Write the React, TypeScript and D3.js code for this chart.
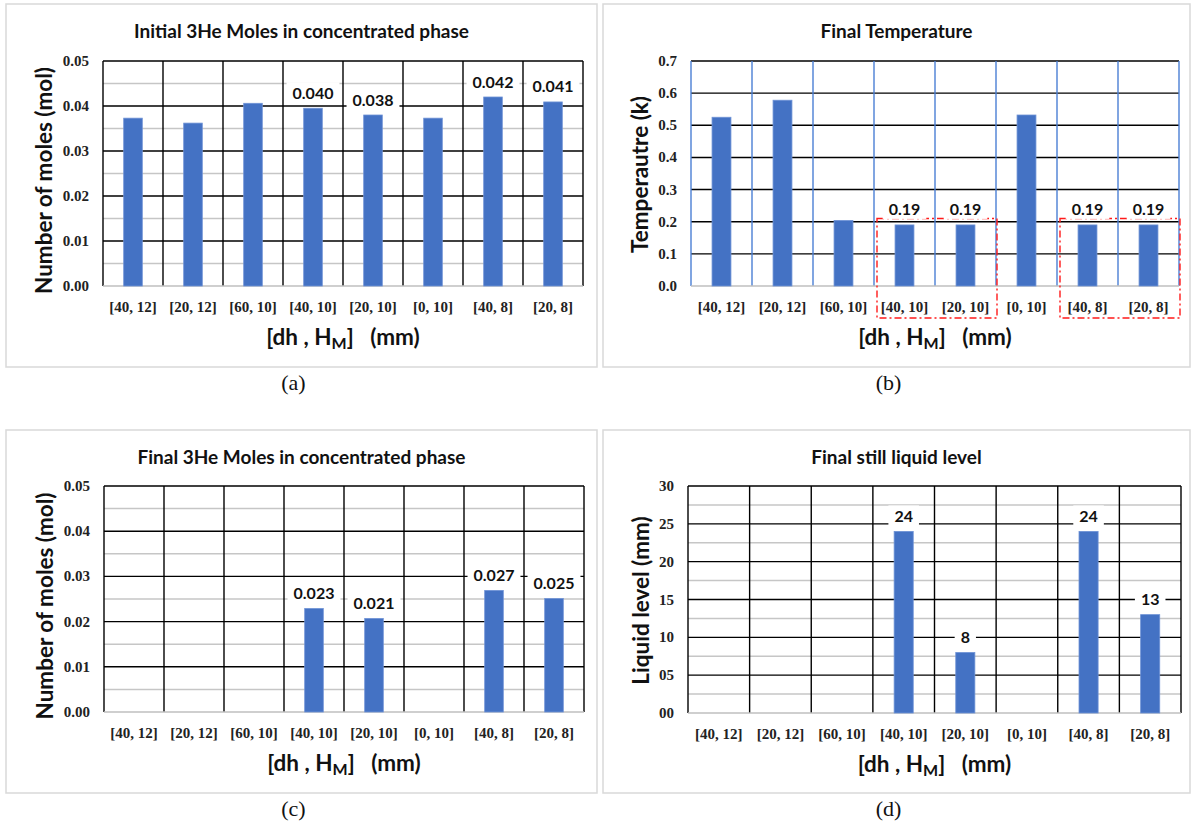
import React, { useEffect, useRef } from "react";
import * as d3 from "d3";

// ---------- data ----------
const categories = ["[40, 12]", "[20, 12]", "[60, 10]", "[40, 10]", "[20, 10]", "[0, 10]", "[40, 8]", "[20, 8]"];
const initialMoles = [0.0373, 0.0362, 0.0406, 0.0395, 0.038, 0.0373, 0.042, 0.0409];
const finalTemperature = [0.525, 0.578, 0.204, 0.19, 0.19, 0.532, 0.19, 0.19];
const finalMoles = [0, 0, 0, 0.0229, 0.0207, 0, 0.0269, 0.0251];
const finalLevel = [0, 0, 0, 24, 8, 0, 24, 13];
const labelledIdx = [3, 4, 6, 7];
const highlightGroups = [[3, 4], [6, 7]];
const molesTicks = [0, 0.01, 0.02, 0.03, 0.04, 0.05];
const tempTicks = [0, 0.1, 0.2, 0.3, 0.4, 0.5, 0.6, 0.7];
const levelTicks = [0, 5, 10, 15, 20, 25, 30];
const panelTitles = [
  "Initial 3He Moles in concentrated phase",
  "Final Temperature",
  "Final 3He Moles in concentrated phase",
  "Final still liquid level",
];
const yTitles = ["Number of moles (mol)", "Temperautre (k)", "Number of moles (mol)", "Liquid level (mm)"];
const panelTags = ["(a)", "(b)", "(c)", "(d)"];

const SANS = "Lato, 'Open Sans', sans-serif";
const SERIF = "'Liberation Serif', 'Times New Roman', serif";
const BAR = "#4472c4";

type Panel = {
  values: number[];
  ticks: number[];
  minor: boolean;
  tickFmt: string;
  labelFmt: string;
  title: string;
  yTitle: string;
  tag: string;
  box: [number, number, number, number];
  plot: [number, number, number, number];
  vColor: string;
  yTitleOff: number;
  yTitleDy: number;
  highlight: number[][] | null;
};

const panels: Panel[] = [
  {
    values: initialMoles, ticks: molesTicks, minor: true, tickFmt: ".2f", labelFmt: ".3f",
    title: panelTitles[0], yTitle: yTitles[0], tag: panelTags[0],
    box: [6, 4, 597, 367], plot: [103, 61, 583, 286], vColor: "#000", yTitleOff: 60, yTitleDy: 7, highlight: null,
  },
  {
    values: finalTemperature, ticks: tempTicks, minor: false, tickFmt: ".1f", labelFmt: ".2f",
    title: panelTitles[1], yTitle: yTitles[1], tag: panelTags[1],
    box: [603, 4, 1190, 367], plot: [691, 61, 1179, 286], vColor: "#4a7fd4", yTitleOff: 52, yTitleDy: 1, highlight: highlightGroups,
  },
  {
    values: finalMoles, ticks: molesTicks, minor: true, tickFmt: ".2f", labelFmt: ".3f",
    title: panelTitles[2], yTitle: yTitles[2], tag: panelTags[2],
    box: [6, 430, 597, 793], plot: [104, 486, 584, 712], vColor: "#000", yTitleOff: 60, yTitleDy: 7, highlight: null,
  },
  {
    values: finalLevel, ticks: levelTicks, minor: true, tickFmt: "02d", labelFmt: "d",
    title: panelTitles[3], yTitle: yTitles[3], tag: panelTags[3],
    box: [603, 430, 1190, 793], plot: [688, 486, 1181, 713], vColor: "#000", yTitleOff: 48, yTitleDy: 1, highlight: null,
  },
];

function drawPanel(svg: d3.Selection<SVGSVGElement, unknown, null, undefined>, p: Panel) {
  const [bx0, by0, bx1, by1] = p.box;
  const [px0, py0, px1, py1] = p.plot;
  const g = svg.append("g");
  const maxV = p.ticks[p.ticks.length - 1];
  const x = d3.scaleBand<string>().domain(categories).range([px0, px1]).padding(0);
  const y = d3.scaleLinear().domain([0, maxV]).range([py1, py0]);
  const bw = x.bandwidth();
  const barW = bw * 0.31;

  g.append("rect")
    .attr("x", bx0).attr("y", by0).attr("width", bx1 - bx0).attr("height", by1 - by0)
    .attr("fill", "#fff").attr("stroke", "#d9d9d9").attr("stroke-width", 1.5);

  // title
  g.append("text")
    .attr("x", (bx0 + bx1) / 2).attr("y", by0 + 26)
    .attr("text-anchor", "middle").attr("dominant-baseline", "central")
    .attr("font-family", SANS).attr("font-weight", 700).attr("font-size", 19)
    .attr("fill", "#111").text(p.title);

  // minor grid
  if (p.minor) {
    const minors = p.ticks.slice(1).map((t, i) => (t + p.ticks[i]) / 2);
    g.selectAll(".minor").data(minors).join("line")
      .attr("x1", px0).attr("x2", px1).attr("y1", (d) => y(d)).attr("y2", (d) => y(d))
      .attr("stroke", "#c6c6c6").attr("stroke-width", 1.5);
  }
  // major grid
  g.selectAll(".major").data(p.ticks.slice(1)).join("line")
    .attr("x1", px0).attr("x2", px1).attr("y1", (d) => y(d)).attr("y2", (d) => y(d))
    .attr("stroke", "#000").attr("stroke-width", 1.4);
  // vertical lines
  const vx = categories.map((c) => x(c) as number).concat([px1]);
  g.selectAll(".vline").data(vx).join("line")
    .attr("x1", (d) => d).attr("x2", (d) => d).attr("y1", py0).attr("y2", py1)
    .attr("stroke", p.vColor).attr("stroke-width", 1.4);
  // axis line
  g.append("line").attr("x1", px0).attr("x2", px1).attr("y1", y(0)).attr("y2", y(0))
    .attr("stroke", "#bfbfbf").attr("stroke-width", 1.5);

  // bars
  g.selectAll(".bar").data(p.values).join("rect")
    .attr("x", (_, i) => (x(categories[i]) as number) + (bw - barW) / 2)
    .attr("width", barW)
    .attr("y", (d) => y(d))
    .attr("height", (d) => y(0) - y(d))
    .attr("fill", BAR)
    .attr("stroke", (d) => (d > 0 ? "#6f93d6" : "none")).attr("stroke-width", 0.8);

  // y tick labels
  const tf = d3.format(p.tickFmt);
  g.selectAll(".ytick").data(p.ticks).join("text")
    .attr("x", px0 - 14).attr("y", (d) => y(d))
    .attr("text-anchor", "end").attr("dominant-baseline", "central")
    .attr("font-family", SERIF).attr("font-weight", 700).attr("font-size", 15)
    .attr("fill", "#222").text((d) => tf(d));

  // x tick labels
  g.selectAll(".xtick").data(categories).join("text")
    .attr("x", (d) => (x(d) as number) + bw / 2).attr("y", py1 + 21)
    .attr("text-anchor", "middle").attr("dominant-baseline", "central")
    .attr("font-family", SERIF).attr("font-weight", 700).attr("font-size", 15)
    .attr("fill", "#222").text((d) => d);

  // highlight rectangles
  if (p.highlight) {
    p.highlight.forEach((grp) => {
      const hx0 = (x(categories[grp[0]]) as number) + 3;
      const hx1 = (x(categories[grp[grp.length - 1]]) as number) + bw + 1;
      g.append("rect")
        .attr("x", hx0).attr("y", y(0.21)).attr("width", hx1 - hx0).attr("height", py1 + 32 - y(0.21))
        .attr("fill", "none").attr("stroke", "#ff1a1a").attr("stroke-width", 1.4)
        .attr("stroke-dasharray", "7 3 2 3");
    });
  }

  // data labels
  const lf = d3.format(p.labelFmt);
  labelledIdx.forEach((i) => {
    const cx = (x(categories[i]) as number) + bw / 2;
    const cy = y(p.values[i]) - 16;
    const lg = g.append("g");
    const bg = lg.append("rect").attr("fill", "#fff");
    const t = lg.append("text")
      .attr("x", cx).attr("y", cy)
      .attr("text-anchor", "middle").attr("dominant-baseline", "central")
      .attr("font-family", SANS).attr("font-weight", 700).attr("font-size", 16)
      .attr("fill", "#111").text(lf(p.values[i]));
    const w = (t.node() as SVGTextElement).getComputedTextLength();
    bg.attr("x", cx - w / 2 - 6).attr("y", cy - 10).attr("width", w + 12).attr("height", 20);
  });

  // y title
  const ycx = px0 - p.yTitleOff;
  const ycy = (py0 + py1) / 2 + p.yTitleDy;
  g.append("text")
    .attr("transform", `translate(${ycx},${ycy}) rotate(-90)`)
    .attr("text-anchor", "middle").attr("dominant-baseline", "central")
    .attr("font-family", SANS).attr("font-weight", 700).attr("font-size", 22.5)
    .attr("fill", "#111").text(p.yTitle);

  // x title
  const xt = g.append("text")
    .attr("x", (px0 + px1) / 2).attr("y", py1 + 50)
    .attr("text-anchor", "middle").attr("dominant-baseline", "central")
    .attr("font-family", SANS).attr("font-weight", 700).attr("font-size", 22.5)
    .attr("fill", "#111").attr("xml:space", "preserve");
  xt.append("tspan").text("[dh , H");
  xt.append("tspan").attr("font-size", 16).attr("dy", 6).text("M");
  xt.append("tspan").attr("dy", -6).text("]   (mm)");

  // panel tag
  g.append("text")
    .attr("x", (bx0 + bx1) / 2 - 8).attr("y", by1 + 15)
    .attr("text-anchor", "middle").attr("dominant-baseline", "central")
    .attr("font-family", SERIF).attr("font-size", 22)
    .attr("fill", "#111").text(p.tag);
}

export default function App() {
  const ref = useRef<SVGSVGElement>(null);
  useEffect(() => {
    if (!ref.current) return;
    const svg = d3.select(ref.current);
    svg.selectAll("*").remove();
    panels.forEach((p) => drawPanel(svg, p));
  }, []);
  return (
    <svg
      ref={ref}
      width={1194}
      height={825}
      style={{ position: "absolute", left: 0, top: 0, background: "#fff" }}
    />
  );
}
